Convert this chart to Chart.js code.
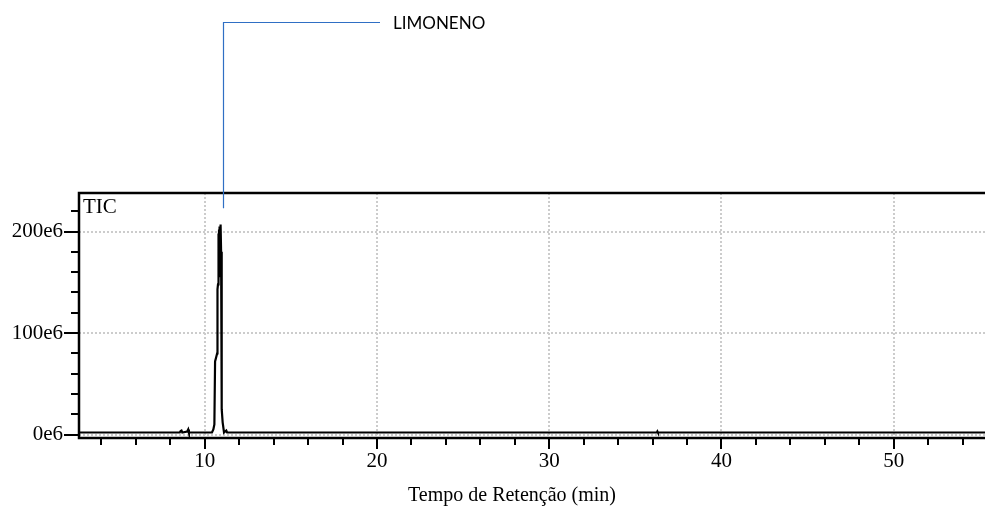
<!DOCTYPE html>
<html>
<head>
<meta charset="utf-8">
<script src="https://cdn.jsdelivr.net/npm/chart.js@4.4.0/dist/chart.umd.min.js"></script>
<style>
  html, body { margin: 0; padding: 0; background: #fff; overflow: hidden; }
  #wrap { width: 985px; height: 507px; }
</style>
</head>
<body>
<div id="wrap"><canvas id="myChart" width="985" height="507"></canvas></div>
<script>
'use strict'

// retention time (min) and TIC intensity (in units of 1e6)
const retTimes = [2.7, 8.55, 8.6, 8.65, 8.7, 8.98, 9.04, 9.08, 10.42, 10.5, 10.56, 10.6, 10.66, 10.72,
  10.74, 10.77, 10.79, 10.81, 10.83, 10.85, 10.87, 10.89, 10.91, 10.93, 10.95, 10.97, 11.0, 11.04, 11.12,
  11.25, 11.3, 36.25, 36.28, 36.31, 55.3];
const ticValues = [2, 2, 3.5, 4, 2, 3, 5, 2, 2, 5, 10, 72, 76, 80,
  143, 148, 198, 150, 202, 155, 205, 160, 206, 207, 180, 40, 25, 12, 2,
  4, 2, 2, 3, 2, 2];

const xTicks = [4, 6, 8, 10, 12, 14, 16, 18, 20, 22, 24, 26, 28, 30, 32, 34, 36, 38, 40, 42, 44, 46, 48, 50, 52, 54];
const yTicks = [0, 20, 40, 60, 80, 100, 120, 140, 160, 180, 200, 220];

const peakLabel = 'LIMONENO';
const peakTime = 11.05;
const peakLabelLevel = 223;
const seriesName = 'TIC';
const xTitle = 'Tempo de Retenção (min)';

const serif = 'Liberation Serif';

// frame, ticks with two lengths, labels and annotation
const decorations = {
  id: 'decorations',
  afterDatasetsDraw(chart) {
    const ctx = chart.ctx;
    const a = chart.chartArea;
    const xs = chart.scales.x;
    const ys = chart.scales.y;
    ctx.save();
    ctx.strokeStyle = '#000';
    ctx.lineWidth = 2.5;
    ctx.beginPath();
    ctx.moveTo(a.right + 5, a.top);
    ctx.lineTo(a.left, a.top);
    ctx.lineTo(a.left, a.bottom);
    ctx.lineTo(a.right + 5, a.bottom);
    ctx.stroke();

    ctx.lineWidth = 2;
    ctx.beginPath();
    xTicks.forEach(v => {
      const px = Math.round(xs.getPixelForValue(v));
      const len = v % 10 === 0 ? 11 : 7;
      ctx.moveTo(px, a.bottom);
      ctx.lineTo(px, a.bottom + len);
    });
    yTicks.forEach(v => {
      const py = Math.round(ys.getPixelForValue(v));
      const len = v % 100 === 0 ? 15 : 8;
      ctx.moveTo(a.left, py);
      ctx.lineTo(a.left - len, py);
    });
    ctx.stroke();

    ctx.fillStyle = '#000';
    ctx.font = '21px "' + serif + '"';
    ctx.textAlign = 'left';
    ctx.textBaseline = 'alphabetic';
    ctx.fillText(seriesName, a.left + 4, a.top + 20);

    ctx.textAlign = 'center';
    ctx.font = '20px "' + serif + '"';
    ctx.fillText(xTitle, 512, 501);

    // annotation
    const ax = Math.round(xs.getPixelForValue(peakTime)) + 0.5;
    const ay = ys.getPixelForValue(peakLabelLevel);
    ctx.strokeStyle = '#2f6fc4';
    ctx.lineWidth = 1.2;
    ctx.beginPath();
    ctx.moveTo(ax, ay);
    ctx.lineTo(ax, 22.5);
    ctx.lineTo(380, 22.5);
    ctx.stroke();
    ctx.fillStyle = '#000';
    ctx.textAlign = 'left';
    ctx.font = '17px Lato';
    ctx.fillText(peakLabel, 393, 29);
    ctx.restore();
  }
};

const ctx = document.getElementById('myChart').getContext('2d');
const chart = new Chart(ctx, {
  type: 'scatter',
  data: {
    datasets: [{
      label: seriesName,
      data: retTimes.map((t, i) => ({ x: t, y: ticValues[i] })),
      showLine: true,
      borderColor: '#000',
      borderWidth: 2.2,
      pointRadius: 0,
      tension: 0
    }]
  },
  options: {
    responsive: false,
    animation: false,
    layout: { padding: { top: 193, left: 0, right: 0, bottom: 0 } },
    plugins: { legend: { display: false }, tooltip: { enabled: false } },
    scales: {
      x: {
        type: 'linear',
        min: 2.7,
        max: 55.3,
        afterBuildTicks: s => { s.ticks = xTicks.map(v => ({ value: v })); },
        afterFit: s => { s.height = 69; },
        grid: {
          drawTicks: false,
          lineWidth: 2,
          color: c => (c.tick && c.tick.value % 10 === 0) ? '#cccccc' : 'rgba(0,0,0,0)'
        },
        border: { display: false, dash: [2, 2] },
        ticks: {
          autoSkip: false,
          maxRotation: 0,
          padding: 11,
          color: '#000',
          font: { family: serif, size: 21 },
          callback: v => v % 10 === 0 ? String(v) : ''
        }
      },
      y: {
        min: -3.4,
        max: 238,
        afterBuildTicks: s => { s.ticks = yTicks.map(v => ({ value: v })); },
        afterFit: s => { s.width = 79; },
        grid: {
          drawTicks: false,
          lineWidth: 2,
          color: c => (c.tick && c.tick.value % 100 === 0) ? '#cccccc' : 'rgba(0,0,0,0)'
        },
        border: { display: false, dash: [2, 2] },
        ticks: {
          autoSkip: false,
          padding: 16,
          color: '#000',
          font: { family: serif, size: 21 },
          callback: v => v % 100 === 0 ? v + 'e6' : ''
        }
      }
    }
  },
  plugins: [decorations]
});
</script>
</body>
</html>
